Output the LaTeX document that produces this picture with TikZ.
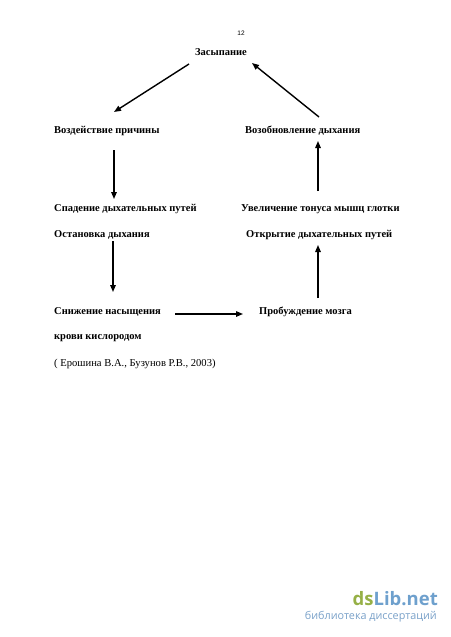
\documentclass[tikz,border=0pt]{standalone}
\usepackage{fontspec}
\setmainfont{Liberation Serif}
\newfontfamily\wmfont{Open Sans}
\newfontfamily\pgfont{Liberation Sans}
\usetikzlibrary{arrows.meta}
\definecolor{dsgreen}{RGB}{150,176,70}
\definecolor{dsblue}{RGB}{110,160,205}
\definecolor{dsgray}{RGB}{120,160,200}
\begin{document}
\begin{tikzpicture}[x=1pt,y=-1pt,
  lbl/.style={font=\bfseries\fontsize{10.5}{12}\selectfont, inner sep=0pt},
  lleft/.style={lbl, anchor=west},
  arr/.style={line width=1.4pt, -{Triangle[length=7pt,width=5.5pt]}}]
\useasboundingbox (0,0) rectangle (450,637);
\node[font=\pgfont\fontsize{6.5}{7}\selectfont, inner sep=0pt] (pg) at (241,33) {12};
\node[lbl] (zas) at (221,52) {Засыпание};
\node[lleft] (vozd) at (54,131) {Воздействие причины};
\node[lleft] (vozob) at (245,131) {Возобновление дыхания};
\node[lleft] (spad) at (54,209) {Спадение дыхательных путей};
\node[lleft] (uvel) at (241,209) {Увеличение тонуса мышц глотки};
\node[lleft] (ost) at (54,235) {Остановка дыхания};
\node[lleft] (otkr) at (246,235) {Открытие дыхательных путей};
\node[lleft] (sniz) at (54,312) {Снижение насыщения};
\node[lleft] (prob) at (259,312) {Пробуждение мозга};
\node[lleft] (krov) at (54,338) {крови кислородом};
\node[anchor=west, inner sep=0pt, font=\fontsize{10.6}{12}\selectfont] (ref) at (54,364) {( Ерошина В.А., Бузунов Р.В., 2003)};
% arrow ends
\coordinate (a1s) at (189,64);  \coordinate (a1e) at (114,112);
\coordinate (a2s) at (319,117); \coordinate (a2e) at (252,63);
\coordinate (a3s) at (114,150); \coordinate (a3e) at (114,199);
\coordinate (a4s) at (318,191); \coordinate (a4e) at (318,141);
\coordinate (a5s) at (113,241); \coordinate (a5e) at (113,292);
\coordinate (a6s) at (318,298); \coordinate (a6e) at (318,245);
\coordinate (a7s) at (175,314); \coordinate (a7e) at (243,314);
\draw[arr] (a1s) -- (a1e);
\draw[arr] (a2s) -- (a2e);
\draw[arr] (a3s) -- (a3e);
\draw[arr] (a4s) -- (a4e);
\draw[arr] (a5s) -- (a5e);
\draw[arr] (a6s) -- (a6e);
\draw[arr] (a7s) -- (a7e);
% watermark
\node[anchor=east, inner sep=0pt, font=\wmfont\bfseries\fontsize{18.5}{20}\selectfont] (wm) at (438,599) {\textcolor{dsgreen}{ds}\textcolor{dsblue}{Lib.net}};
\node[anchor=east, inner sep=0pt, font=\wmfont\fontsize{10.8}{12}\selectfont, text=dsgray] (wm2) at (437,617) {библиотека диссертаций};
\end{tikzpicture}
\end{document}
